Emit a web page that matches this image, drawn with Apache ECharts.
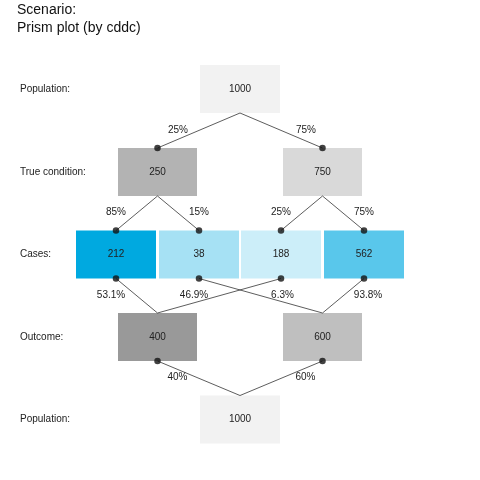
<!DOCTYPE html>
<html><head><meta charset="utf-8">
<script src="https://cdn.jsdelivr.net/npm/echarts@6/dist/echarts.min.js"></script>
<style>html,body{margin:0;padding:0;background:#fff}#c{width:480px;height:480px}</style>
</head><body><div id="c"></div>
<script>
// ---- data ----
const titleLines = ['Scenario:', 'Prism plot (by cddc)'];
const rowLabels = ['Population:', 'True condition:', 'Cases:', 'Outcome:', 'Population:'];
const popN = [1000];
const condValues = [250, 750];
const caseValues = [212, 38, 188, 562];
const outcomeValues = [400, 600];
const condPct = ['25%', '75%'];
const casePctTop = ['85%', '15%', '25%', '75%'];
const casePctBottom = ['53.1%', '46.9%', '6.3%', '93.8%'];
const outcomePct = ['40%', '60%'];
// which outcome each case flows into (0 = first outcome, 1 = second)
const caseToOutcome = [0, 1, 0, 1];
const caseToCond = [0, 0, 1, 1];

// ---- layout ----
const rowY = [89, 172, 254.5, 337, 419.5];
const boxH = 48;
const rowCols = [[240], [157.5, 322.5], [116, 199, 281, 364], [157.5, 322.5], [240]];
const rowW = [80, 79, 80, 79, 80];
const rowColors = [['#f2f2f2'], ['#b3b3b3', '#d9d9d9'], ['#00a9e0', '#a6e1f4', '#cceef9', '#59c7eb'], ['#999999', '#bfbfbf'], ['#f2f2f2']];
const rowValues = [popN, condValues, caseValues, outcomeValues, popN];

const boxes = [];
rowValues.forEach((vals, r) => vals.forEach((v, i) => {
  boxes.push({ value: [rowCols[r][i], rowY[r], v, r, i] });
}));

const boxTop = r => rowY[r] - boxH / 2;
const boxBot = r => rowY[r] + boxH / 2;
const edges = [];
const dots = [];
// pop -> cond
condValues.forEach((v, i) => { edges.push([240, boxBot(0), rowCols[1][i], boxTop(1)]); dots.push([rowCols[1][i], boxTop(1)]); });
// cond -> cases
caseValues.forEach((v, i) => { const c = caseToCond[i]; edges.push([rowCols[1][c], boxBot(1), rowCols[2][i], boxTop(2)]); dots.push([rowCols[2][i], boxTop(2)]); });
// cases -> outcome
caseValues.forEach((v, i) => { const o = caseToOutcome[i]; edges.push([rowCols[2][i], boxBot(2), rowCols[3][o], boxTop(3)]); dots.push([rowCols[2][i], boxBot(2)]); });
// outcome -> pop
outcomeValues.forEach((v, i) => { edges.push([rowCols[3][i], boxBot(3), 240, boxTop(4)]); dots.push([rowCols[3][i], boxBot(3)]); });

const texts = [];
const pctPos1 = [[178, 130], [306, 130]];
condPct.forEach((t, i) => texts.push({ value: [pctPos1[i][0], pctPos1[i][1]], t }));
casePctTop.forEach((t, i) => texts.push({ value: [rowCols[2][i], 212], t }));
const pctPos3 = [111, 194, 282.5, 368];
casePctBottom.forEach((t, i) => texts.push({ value: [pctPos3[i], 295], t }));
const pctPos4 = [[177.5, 377], [305.5, 377]];
outcomePct.forEach((t, i) => texts.push({ value: [pctPos4[i][0], pctPos4[i][1]], t }));

const rowLabelData = rowLabels.map((t, r) => ({ value: [20, rowY[r]], t }));

const chart = echarts.init(document.getElementById('c'), null, { renderer: 'canvas' });
const FONT = 'Liberation Sans, Arial, sans-serif';
chart.setOption({
  animation: false,
  backgroundColor: '#ffffff',
  title: [
    { text: titleLines.join('\n'), left: 17, top: 1, padding: 0, textStyle: { fontFamily: FONT, fontSize: 14, fontWeight: 'normal', color: '#111', lineHeight: 18 } }
  ],
  grid: { left: 0, right: 0, top: 0, bottom: 0 },
  xAxis: { type: 'value', min: 0, max: 480, show: false },
  yAxis: { type: 'value', min: 0, max: 480, inverse: true, show: false },
  series: [
    {
      type: 'custom', data: boxes, z: 1,
      renderItem: (params, api) => {
        const cx = api.value(0), cy = api.value(1), r = api.value(3), i = api.value(4);
        const w = rowW[r];
        const p1 = api.coord([cx - w / 2, cy - boxH / 2]);
        const p2 = api.coord([cx + w / 2, cy + boxH / 2]);
        return {
          type: 'group', children: [
            { type: 'rect', shape: { x: p1[0], y: p1[1], width: p2[0] - p1[0], height: p2[1] - p1[1] }, style: { fill: rowColors[r][i] } },
            { type: 'text', x: (p1[0] + p2[0]) / 2, y: (p1[1] + p2[1]) / 2, style: { text: String(api.value(2)), fill: '#222', font: '10px ' + FONT, align: 'center', verticalAlign: 'middle' } }
          ]
        };
      }
    },
    {
      type: 'custom', data: edges, z: 2,
      renderItem: (params, api) => {
        const a = api.coord([api.value(0), api.value(1)]);
        const b = api.coord([api.value(2), api.value(3)]);
        return { type: 'line', shape: { x1: a[0], y1: a[1], x2: b[0], y2: b[1] }, style: { stroke: '#333', lineWidth: 0.8 } };
      }
    },
    {
      type: 'scatter', data: dots, z: 3, symbol: 'circle', symbolSize: 6.5,
      itemStyle: { color: '#111' }
    },
    {
      type: 'custom', data: texts, z: 4,
      renderItem: (params, api) => {
        const p = api.coord([api.value(0), api.value(1)]);
        return { type: 'text', x: p[0], y: p[1], style: { text: texts[params.dataIndex].t, fill: '#222', font: '10px ' + FONT, align: 'center', verticalAlign: 'middle' } };
      }
    },
    {
      type: 'custom', data: rowLabelData, z: 4,
      renderItem: (params, api) => {
        const p = api.coord([api.value(0), api.value(1)]);
        return { type: 'text', x: p[0], y: p[1], style: { text: rowLabelData[params.dataIndex].t, fill: '#222', font: '10px ' + FONT, align: 'left', verticalAlign: 'middle' } };
      }
    }
  ]
});
</script>
</body></html>
